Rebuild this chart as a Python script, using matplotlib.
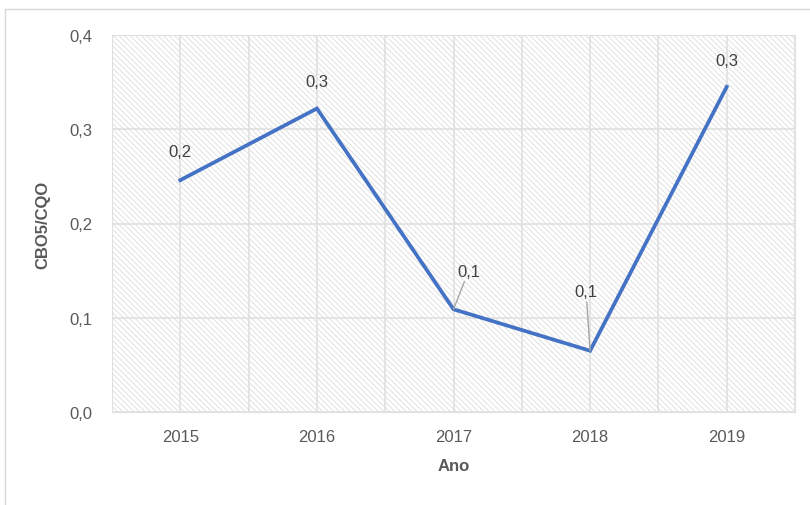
import numpy as np
import matplotlib.pyplot as plt
from matplotlib.lines import Line2D
from matplotlib.patches import Rectangle

# CBO5/CQO ratio per year
anos = ["2015", "2016", "2017", "2018", "2019"]
razao = [0.246, 0.322, 0.109, 0.065, 0.345]
rotulos = ["0,2", "0,3", "0,1", "0,1", "0,3"]
# label offsets (pixels) from each point
desloc = [(0, 29), (0, 27), (15, 38), (-4, 59), (0, 26)]
com_guia = [False, False, True, True, False]

plt.rcParams['font.family'] = ['Liberation Sans Narrow', 'Liberation Sans', 'DejaVu Sans']
plt.rcParams['hatch.linewidth'] = 0.5

fig = plt.figure(figsize=(8.1, 5.06), dpi=100)
ax = fig.add_axes([112 / 810, 1 - 413 / 506, (795 - 112) / 810, (413 - 36) / 506])

# outer chart frame (partly cut off)
fig.add_artist(Line2D([5 / 810, 5 / 810], [0, 1 - 10 / 506], transform=fig.transFigure, color='#d9d9d9', lw=1))
fig.add_artist(Line2D([5 / 810, 1], [1 - 10 / 506, 1 - 10 / 506], transform=fig.transFigure, color='#d9d9d9', lw=1))

# hatched plot area background
ax.add_patch(Rectangle((0, 0), 1, 1, transform=ax.transAxes, facecolor='none',
                       edgecolor='#d6d6d6', lw=0, hatch='\\' * 6, zorder=0))

x = np.arange(len(anos))
ax.set_xlim(-0.5, len(anos) - 0.5)
ax.set_ylim(0, 0.4)
ax.set_xticks(x)
ax.set_xticklabels(anos)
ax.set_xticks(np.arange(-0.5, len(anos), 1.0), minor=True)
ax.set_yticks(np.arange(0, 0.41, 0.1))
ax.set_yticklabels([f"{v:.1f}".replace('.', ',') for v in np.arange(0, 0.41, 0.1)])

ax.grid(True, which='both', axis='x', color='#e0e0e0', lw=1.2, zorder=1)
ax.grid(True, which='major', axis='y', color='#e0e0e0', lw=1.2, zorder=1)
ax.set_axisbelow(True)
ax.tick_params(which='both', length=0, colors='#595959', labelsize=12)
ax.tick_params(axis='x', pad=12)
ax.tick_params(axis='y', pad=14)
for s in ax.spines.values():
    s.set_color('#e0e0e0')

ax.plot(x, razao, color='#4472C4', lw=2.7, solid_joinstyle='miter', zorder=3)

for xi, yi, txt, (dx, dy), guia in zip(x, razao, rotulos, desloc, com_guia):
    props = None
    if guia:
        props = dict(arrowstyle='-', color='#a6a6a6', lw=1, shrinkA=0, shrinkB=0)
    ax.annotate(txt, (xi, yi), xytext=(dx, dy), textcoords='offset pixels',
                ha='center', va='center', fontsize=12, color='#404040',
                arrowprops=props, zorder=4)

ax.set_xlabel("Ano", fontsize=12, fontweight='bold', color='#595959', labelpad=10)
ax.set_ylabel("CBO5/CQO", fontsize=12, fontweight='bold', color='#595959', labelpad=14)

fig.savefig("out.png", dpi=100)
